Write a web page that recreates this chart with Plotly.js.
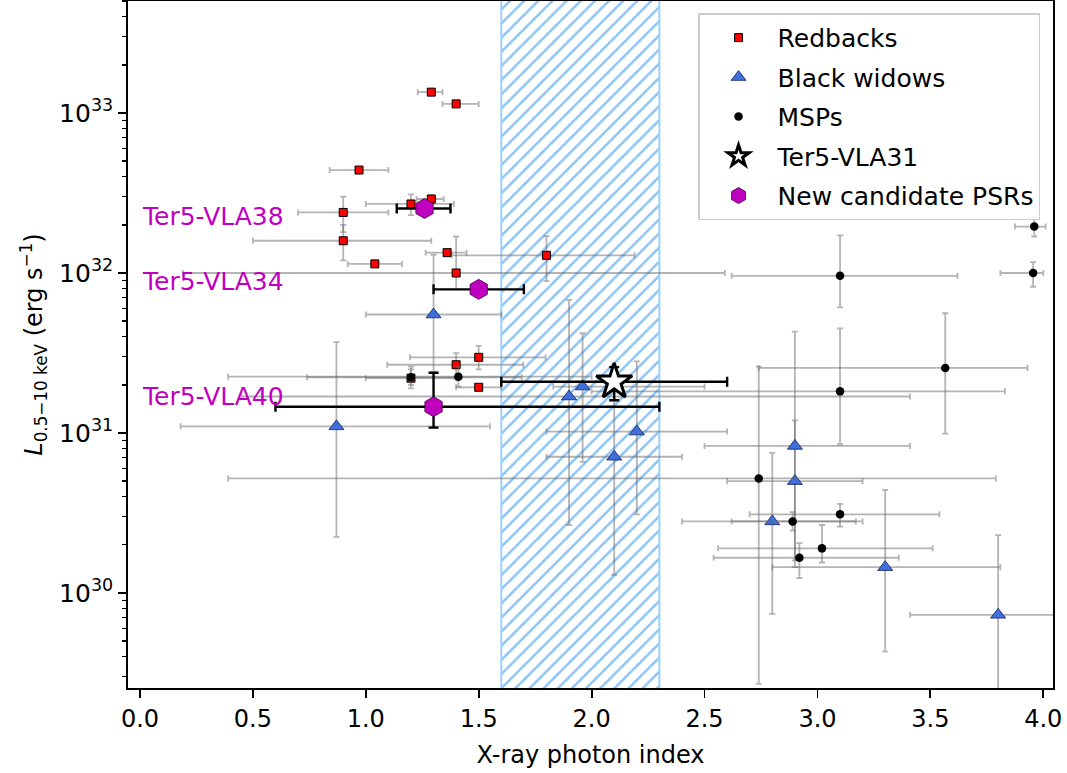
<!DOCTYPE html>
<html>
<head>
<meta charset="utf-8">
<script src="https://cdn.plot.ly/plotly-3.0.1.min.js"></script>
<style>html,body{margin:0;padding:0;background:#fff;}#chart{width:1067px;height:773px;}</style>
</head>
<body>
<div id="chart"></div>
<script>
// ---------- data ----------
// Redbacks
const rbX   = [1.29, 1.40, 0.97, 1.29, 1.20, 0.90, 0.90, 1.04, 1.36, 1.80, 1.40, 1.50, 1.40, 1.20, 1.50];
const rbY   = [1.35e33, 1.14e33, 4.4e32, 2.9e32, 2.7e32, 2.39e32, 1.59e32, 1.14e32, 1.34e32, 1.29e32, 1.0e32, 2.97e31, 2.67e31, 2.2e31, 1.93e31];
const rbXLo = [1.23, 1.34, 0.84, 1.225, 1.00, 0.70, 0.50, 0.92, 1.265, 1.38, 0.19, 1.196, 1.095, 1.00, 1.40];
const rbXHi = [1.34, 1.50, 1.10, 1.345, 1.39, 1.10, 1.29, 1.16, 1.446, 2.19, 2.59, 1.796, 1.697, 1.40, 1.60];
const rbYLo = [1.35e33, 1.14e33, 4.4e32, 2.75e32, 2.3e32, 1.8e32, 1.2e32, 1.14e32, 1.34e32, 8.9e31, 7.9e31, 2.5e31, 2.19e31, 1.9e31, 1.93e31];
const rbYHi = [1.35e33, 1.14e33, 4.4e32, 3.05e32, 3.1e32, 3.0e32, 2.0e32, 1.14e32, 1.34e32, 1.7e32, 1.69e32, 3.5e31, 3.16e31, 2.6e31, 1.93e31];

// Black widows
const bwX   = [1.30, 0.87, 1.90, 1.96, 2.20, 2.10, 2.90, 2.90, 2.80, 3.30, 3.80];
const bwY   = [5.5e31, 1.1e31, 1.69e31, 1.95e31, 1.02e31, 7.1e30, 8.3e30, 5.0e30, 2.8e30, 1.45e30, 7.3e29];
const bwXLo = [1.00, 0.18, 0.45, 1.83, 1.80, 1.80, 2.50, 2.60, 2.40, 2.80, 3.41];
const bwXHi = [1.60, 1.55, 3.41, 2.50, 2.60, 2.40, 3.41, 3.20, 3.20, 3.81, 4.30];
const bwYLo = [2.4e31, 2.24e30, 2.66e30, 6.6e30, 3.1e30, 1.3e30, 1.6e30, 1.45e30, 7.4e29, 4.3e29, 1.0e29];
const bwYHi = [1.3e32, 3.7e31, 6.8e31, 4.2e31, 2.8e31, 1.6e31, 4.3e31, 1.2e31, 7.5e30, 4.4e30, 2.3e30];

// MSPs
const mspX   = [1.20, 1.41, 3.96, 3.955, 3.10, 3.566, 3.10, 2.74, 2.89, 3.10, 3.02, 2.92];
const mspY   = [2.23e31, 2.25e31, 1.95e32, 1.0e32, 9.6e31, 2.55e31, 1.82e31, 5.2e30, 2.8e30, 3.1e30, 1.9e30, 1.66e30];
const mspXLo = [0.74, 0.39, 3.875, 3.81, 2.62, 2.74, 2.00, 0.39, 2.62, 2.70, 2.56, 2.54];
const mspXHi = [1.69, 2.00, 4.01, 4.00, 3.62, 3.93, 3.83, 3.79, 3.17, 3.54, 3.51, 3.36];
const mspYLo = [2.0e31, 1.95e31, 1.69e32, 8.2e31, 6.1e31, 9.9e30, 8.5e30, 2.7e29, 2.45e30, 2.6e30, 1.55e30, 1.24e30];
const mspYHi = [2.5e31, 2.6e31, 2.24e32, 1.17e32, 1.72e32, 5.6e31, 4.5e31, 2.6e31, 3.2e30, 3.6e30, 2.66e30, 2.05e30];

// Ter5-VLA31
const vla31X = [2.10], vla31Y = [2.09e31];
const vla31XLo = [1.60], vla31XHi = [2.60], vla31YLo = [1.6e31], vla31YHi = [2.58e31];

// New candidate PSRs
const candNames = ["Ter5-VLA38", "Ter5-VLA34", "Ter5-VLA40"];
const candX   = [1.26, 1.50, 1.30];
const candY   = [2.53e32, 7.9e31, 1.46e31];
const candXLo = [1.137, 1.30, 0.60];
const candXHi = [1.375, 1.70, 2.30];
const candYLo = [2.53e32, 7.9e31, 1.08e31];
const candYHi = [2.53e32, 7.9e31, 2.38e31];
const candLabelX = [0.0, 0.0, 0.0];
const candLabelY = [2.27e32, 8.9e31, 1.68e31];

// Expected photon-index band (hatched)
const bandX = [1.6, 2.3];

// Axis ranges & ticks
const xRange = [-0.053, 4.043];
const yLogRange = [29.406, 33.70];
const yTickVals = [1e30, 1e31, 1e32, 1e33];
const yTickText = ["10<sup>30</sup>", "10<sup>31</sup>", "10<sup>32</sup>", "10<sup>33</sup>"];

// ---------- helpers ----------
const plus = (v, hi) => v.map((d, i) => hi[i] - d);
const minus = (v, lo) => v.map((d, i) => d - lo[i]);
const FONT = "DejaVu Sans, sans-serif";
const GREY = "rgba(105,105,105,0.5)";

function errTrace(name, x, y, xlo, xhi, ylo, yhi, marker, errColor, errW, capW) {
  return {
    type: "scatter", mode: "markers", name: name, legendgroup: name, x: x, y: y,
    marker: marker,
    error_x: {type: "data", symmetric: false, array: plus(x, xhi), arrayminus: minus(x, xlo),
              color: errColor, thickness: errW, width: capW},
    error_y: {type: "data", symmetric: false, array: plus(y, yhi), arrayminus: minus(y, ylo),
              color: errColor, thickness: errW, width: capW},
    hoverinfo: "x+y"
  };
}

const yLo = Math.pow(10, yLogRange[0] - 1), yHi = Math.pow(10, yLogRange[1] + 1);
const band = {
  type: "scatter", mode: "lines", showlegend: false, hoverinfo: "skip",
  x: [bandX[0], bandX[1], bandX[1], bandX[0], bandX[0]],
  y: [yLo, yLo, yHi, yHi, yLo],
  fill: "toself", fillcolor: "rgba(0,0,0,0)",
  fillpattern: {shape: "/", fgcolor: "#8cc4f4", bgcolor: "rgba(255,255,255,0)", size: 10, solidity: 0.25},
  line: {color: "#9fd0fb", width: 2}
};

const traces = [
  band,
  errTrace("Redbacks", rbX, rbY, rbXLo, rbXHi, rbYLo, rbYHi,
    {symbol: "square", size: 8, color: "#ff0000", line: {color: "#000", width: 1}}, GREY, 1.8, 3),
  errTrace("Black widows", bwX, bwY, bwXLo, bwXHi, bwYLo, bwYHi,
    {symbol: "triangle-up", size: 13, color: "#3f6fdd", line: {color: "#10205a", width: 0.8}}, GREY, 1.8, 3),
  errTrace("MSPs", mspX, mspY, mspXLo, mspXHi, mspYLo, mspYHi,
    {symbol: "circle", size: 8.5, color: "#000"}, GREY, 1.8, 3),
  errTrace("Ter5-VLA31", vla31X, vla31Y, vla31XLo, vla31XHi, vla31YLo, vla31YHi,
    {symbol: "star", size: 27, color: "#ffffff", line: {color: "#000", width: 3}}, "#000", 2.4, 5),
  errTrace("New candidate PSRs", candX, candY, candXLo, candXHi, candYLo, candYHi,
    {symbol: "hexagon", size: 20, color: "#bf00bf", line: {color: "#3a003a", width: 0.8}}, "#000", 2.4, 5)
];

const annotations = candNames.map((t, i) => ({
  x: candLabelX[i], y: Math.log10(candLabelY[i]), xref: "x", yref: "y",
  text: t, showarrow: false, xanchor: "left", yanchor: "middle",
  font: {family: FONT, size: 25, color: "#bf00bf"}
}));

const layout = {
  width: 1067, height: 773,
  margin: {l: 128, r: 14, t: 1, b: 85},
  paper_bgcolor: "#fff", plot_bgcolor: "#fff",
  font: {family: FONT, color: "#000"},
  showlegend: true,
  legend: {
    x: 0.986, y: 0.982, xanchor: "right", yanchor: "top",
    bgcolor: "rgba(255,255,255,0.85)", bordercolor: "#cccccc", borderwidth: 1.5,
    font: {family: FONT, size: 25, color: "#000"}, itemwidth: 68, tracegroupgap: 4
  },
  xaxis: {
    range: xRange, tickmode: "linear", tick0: 0, dtick: 0.5, tickformat: ".1f",
    ticks: "outside", ticklen: 8, tickwidth: 1.8, tickcolor: "#000",
    showline: true, mirror: true, linewidth: 1.8, linecolor: "#000",
    showgrid: false, zeroline: false,
    tickfont: {family: FONT, size: 24, color: "#000"},
    title: {text: "X-ray photon index", font: {family: FONT, size: 24, color: "#000"}, standoff: 15}
  },
  yaxis: {
    type: "log", range: yLogRange,
    tickmode: "array", tickvals: yTickVals, ticktext: yTickText,
    ticks: "outside", ticklen: 8, tickwidth: 1.8, tickcolor: "#000",
    minor: {ticks: "outside", ticklen: 4.5, tickwidth: 1.4, tickcolor: "#000", dtick: "D1", showgrid: false},
    showline: true, mirror: true, linewidth: 1.8, linecolor: "#000",
    showgrid: false, zeroline: false,
    tickfont: {family: FONT, size: 25, color: "#000"},
    title: {text: "<i>L</i><sub>0.5−10 keV</sub> (erg s<sup>−1</sup>)", font: {family: FONT, size: 24, color: "#000"}, standoff: 10}
  },
  annotations: annotations
};

Plotly.newPlot("chart", traces, layout, {displayModeBar: false, staticPlot: true});
</script>
</body>
</html>
